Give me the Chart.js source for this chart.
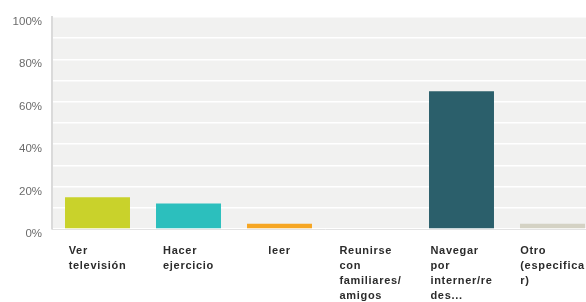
<!DOCTYPE html>
<html>
<head>
<meta charset="utf-8">
<script src="https://cdn.jsdelivr.net/npm/chart.js@4.4.0/dist/chart.umd.min.js"></script>
<style>
  html, body { margin: 0; padding: 0; background: #fff; overflow: hidden; }
  /* el grafico original esta recortado por la derecha */
  #marco { width: 586px; height: 302px; overflow: hidden; }
  #answerChart { display: block; }
</style>
</head>
<body>
<div id="marco"><canvas id="answerChart" width="598" height="302"></canvas></div>
<script>
// categorias (etiquetas del eje x, ya partidas en lineas)
var categorias = [
    ["Ver", "televisión"],
    ["Hacer", "ejercicio"],
    ["leer"],
    ["Reunirse", "con", "familiares/", "amigos"],
    ["Navegar", "por", "interner/re", "des..."],
    ["Otro", "(especifica", "r)"]
];
// porcentaje de respuestas
var porcentajes = [15, 12, 2.5, 0, 65, 2.5];
var coloresBarras = ["#c9d22b", "#2cbfbd", "#f6a623", "#7f7f7f", "#2b5f6b", "#d4d2c4"];
var ticksY = [0, 20, 40, 60, 80, 100];

// fondo gris del area del grafico
var fondoPlugin = {
    id: "fondo",
    beforeDraw: function (chart) {
        var a = chart.chartArea;
        var ctx = chart.ctx;
        ctx.save();
        ctx.fillStyle = "#f1f1f0";
        ctx.fillRect(a.left, a.top, a.right - a.left, a.bottom - a.top);
        ctx.restore();
    }
};

// etiquetas del eje x: bloque centrado en la categoria, lineas alineadas a la izquierda
var etiquetasPlugin = {
    id: "etiquetasX",
    afterDraw: function (chart) {
        var scale = chart.scales.x;
        var ctx = chart.ctx;
        ctx.save();
        ctx.font = "bold 11px 'Liberation Sans'";
        ctx.letterSpacing = "0.7px";
        ctx.fillStyle = "#2b2b2b";
        ctx.textAlign = "left";
        ctx.textBaseline = "middle";
        for (var i = 0; i < categorias.length; i++) {
            var lineas = categorias[i];
            var ancho = 0;
            for (var j = 0; j < lineas.length; j++) {
                ancho = Math.max(ancho, ctx.measureText(lineas[j]).width);
            }
            var x0 = scale.getPixelForValue(i) - ancho / 2;
            for (var j = 0; j < lineas.length; j++) {
                ctx.fillText(lineas[j], x0, scale.top + 22 + j * 15);
            }
        }
        ctx.restore();
    }
};

var ctx = document.getElementById("answerChart").getContext("2d");
var chart = new Chart(ctx, {
    type: "bar",
    data: {
        labels: categorias,
        datasets: [{
            data: porcentajes,
            backgroundColor: coloresBarras,
            borderWidth: 0,
            barPercentage: 0.714,
            categoryPercentage: 1
        }]
    },
    options: {
        responsive: false,
        animation: false,
        layout: { padding: { top: 14, right: 0, left: 0, bottom: 0 } },
        plugins: {
            legend: { display: false },
            tooltip: { enabled: false }
        },
        scales: {
            x: {
                grid: { display: false, drawTicks: false },
                border: { display: true, color: "#e3e3e3", width: 1 },
                ticks: { display: false },
                afterFit: function (scale) { scale.height = 73; }
            },
            y: {
                min: 0,
                max: 100,
                grid: { color: "#ffffff", lineWidth: 1.5, drawTicks: false },
                border: { display: true, color: "#dadada", width: 2 },
                ticks: {
                    stepSize: 10,
                    padding: 10,
                    labelOffset: 5,
                    color: "#6b6b6b",
                    font: { family: "Liberation Sans", size: 11.5 },
                    callback: function (v) {
                        return ticksY.indexOf(v) >= 0 ? v + "%" : "";
                    }
                },
                afterFit: function (scale) { scale.width = 52; }
            }
        }
    },
    plugins: [fondoPlugin, etiquetasPlugin]
});
</script>
</body>
</html>
